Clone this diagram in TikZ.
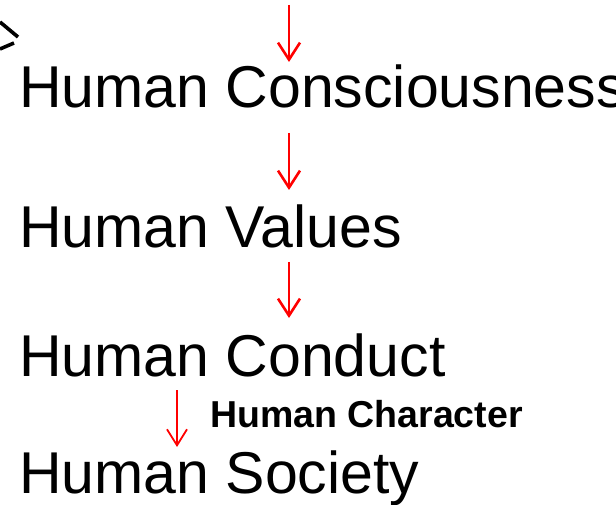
\documentclass[tikz,border=0pt]{standalone}
\usepackage{fontspec}
\setmainfont{Liberation Sans}
\usepackage{xcolor}
\definecolor{FlowRed}{HTML}{FF0000}
\usepackage{tikz}
\usetikzlibrary{arrows.meta,calc}
\tikzset{
  hvnode/.style={anchor=base west, inner sep=0pt, font=\fontsize{59}{62}\selectfont},
  hvlabel/.style={anchor=base west, inner sep=0pt, font=\fontsize{37.5}{40}\selectfont\bfseries},
  hvarr/.style={-{Straight Barb[length=17pt,width=22pt]}, line width=2.6pt, FlowRed},
  hvarrthin/.style={-{Straight Barb[length=16pt,width=20pt]}, line width=1.8pt, FlowRed}
}
\begin{document}
\begin{tikzpicture}[x=1pt, y=-1pt]
\useasboundingbox (0,0) rectangle (616,505);
% cut-off mark at the top left
\draw[line width=3.6pt] (0,22) -- (18,37);
\draw[line width=3.6pt] (0,49) -- (14,43);
% the chain
\node[hvnode] (cons) at (19,108) {Human Consciousness};
\node[hvnode] (values) at (19,248) {Human Values};
\node[hvnode] (conduct) at (19,376) {Human Conduct};
\node[hvnode] (society) at (19,493) {Human Society};
\node[hvlabel] (char) at (210,427) {Human Character};
\coordinate (top) at (289,5);
\draw[hvarr] (top) -- ([shift={(270,-46)}]cons.base west);
\draw[hvarr] ([shift={(270,25)}]cons.base west) -- ([shift={(270,-58)}]values.base west);
\draw[hvarr] ([shift={(270,14)}]values.base west) -- ([shift={(270,-58)}]conduct.base west);
\draw[hvarrthin] ([shift={(158,14)}]conduct.base west) -- ([shift={(158,-46)}]society.base west);
\end{tikzpicture}
\end{document}
